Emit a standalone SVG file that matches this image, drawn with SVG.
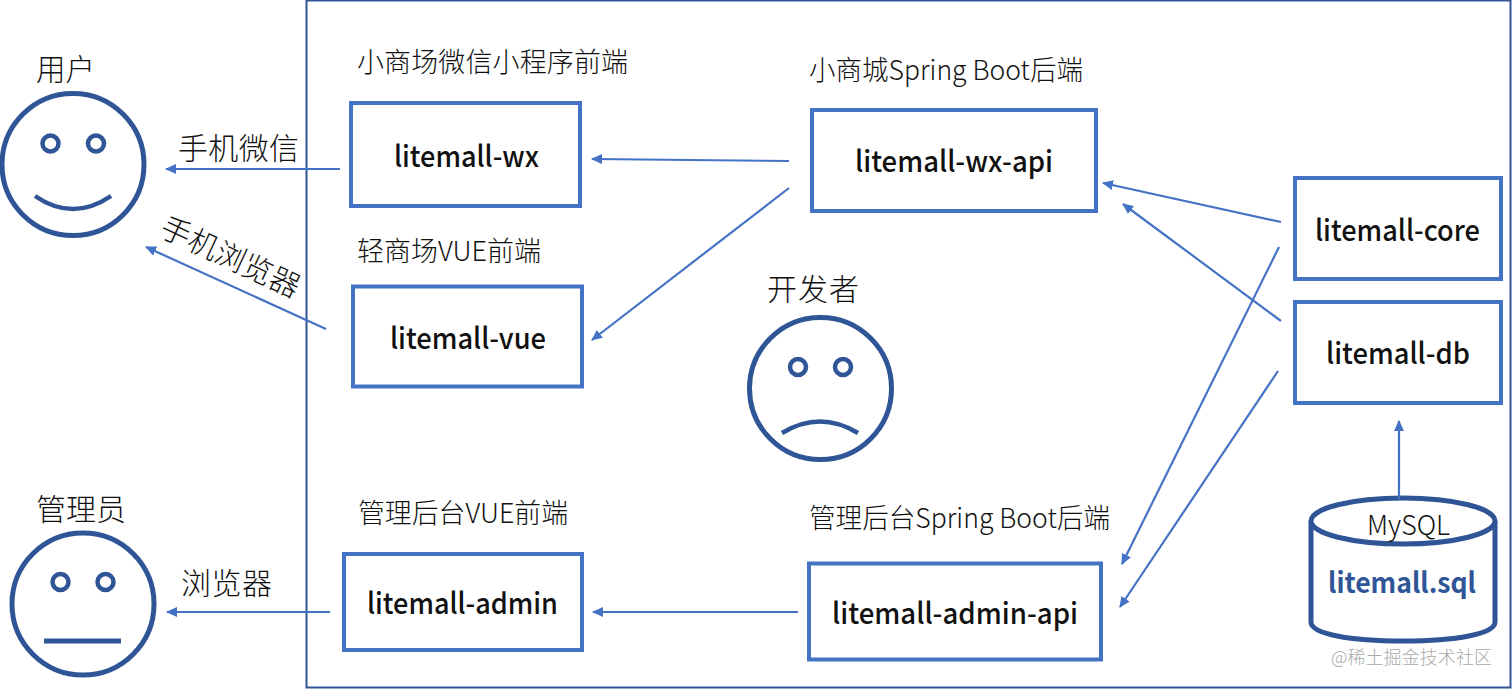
<svg xmlns="http://www.w3.org/2000/svg" width="1512" height="689" viewBox="0 0 1512 689">
<style>
text{font-family:"Noto Sans CJK SC","Noto Sans",sans-serif;fill:#111}
.n{font-size:29px;font-weight:500;text-anchor:middle}
.l{font-size:27px;font-weight:300}
.h{font-size:30px;font-weight:300}
.box{fill:#fff;stroke:#4472c4;stroke-width:4}
.face{fill:#fff;stroke:#2f5597;stroke-width:5}
.eye{fill:#fff;stroke:#2f5597;stroke-width:4.500}
.c{fill:none;stroke:#4472c4;stroke-width:2.200;marker-end:url(#a)}
.v{font-size:30px}
</style>
<defs><marker id="a" markerUnits="userSpaceOnUse" markerWidth="12" markerHeight="10" refX="10" refY="5" orient="auto"><path d="M0 0L11 5L0 10Z" fill="#4472c4"/></marker></defs>
<rect id="frame" x="306.500" y="0.500" width="1204" height="687" fill="#fff" stroke="#2f5597" stroke-width="2"/>
<g id="user"><circle class="face" cx="73" cy="164.500" r="71"/><circle class="eye" cx="50.500" cy="143.500" r="8"/><circle class="eye" cx="96" cy="143.500" r="8"/><path d="M35 196Q73 222 111 196" fill="none" stroke="#2f5597" stroke-width="4.500"/><text class="h" x="36" y="80" style="font-size:29.500px">用户</text></g>
<g id="admin"><circle class="face" cx="83" cy="604" r="71"/><circle class="eye" cx="60.500" cy="582" r="8"/><circle class="eye" cx="105.500" cy="582" r="8"/><path d="M44 641H121" fill="none" stroke="#2f5597" stroke-width="5"/><text class="h" x="36" y="520">管理员</text></g>
<g id="developer"><circle class="face" cx="820.500" cy="388.500" r="71"/><circle class="eye" cx="798" cy="367" r="8"/><circle class="eye" cx="843" cy="367" r="8"/><path d="M782 433Q820 410 858 433" fill="none" stroke="#2f5597" stroke-width="4.500"/><text class="h" x="767" y="300" textLength="92">开发者</text></g>
<g id="litemall-wx"><rect class="box" x="351" y="103" width="229" height="103"/><text class="n" x="466.500" y="167" textLength="145" lengthAdjust="spacingAndGlyphs">litemall-wx</text><text class="l" x="357" y="72" textLength="271">小商场微信小程序前端</text></g>
<g id="litemall-vue"><rect class="box" x="353" y="286.500" width="229" height="100"/><text class="n" x="468" y="349" textLength="156" lengthAdjust="spacingAndGlyphs">litemall-vue</text><text class="l" x="357" y="261" textLength="184" lengthAdjust="spacingAndGlyphs">轻商场VUE前端</text></g>
<g id="litemall-admin"><rect class="box" x="344" y="554" width="238" height="96"/><text class="n" x="462.500" y="614" textLength="191" lengthAdjust="spacingAndGlyphs">litemall-admin</text><text class="l" x="358" y="523" textLength="210" lengthAdjust="spacingAndGlyphs">管理后台VUE前端</text></g>
<g id="litemall-wx-api"><rect class="box" x="812" y="110" width="284" height="101"/><text class="n" x="954" y="172" textLength="198" lengthAdjust="spacingAndGlyphs">litemall-wx-api</text><text class="l" x="809" y="80" textLength="274" lengthAdjust="spacingAndGlyphs">小商城Spring Boot后端</text></g>
<g id="litemall-admin-api"><rect class="box" x="809" y="563.500" width="292" height="96"/><text class="n" x="955" y="624" textLength="246" lengthAdjust="spacingAndGlyphs">litemall-admin-api</text><text class="l" x="809" y="528" textLength="301" lengthAdjust="spacingAndGlyphs">管理后台Spring Boot后端</text></g>
<g id="litemall-core"><rect class="box" x="1295" y="178" width="206" height="101"/><text class="n" x="1397.500" y="241" textLength="165" lengthAdjust="spacingAndGlyphs">litemall-core</text></g>
<g id="litemall-db"><rect class="box" x="1295" y="302" width="206" height="101"/><text class="n" x="1398" y="364" textLength="144" lengthAdjust="spacingAndGlyphs">litemall-db</text></g>
<g id="litemall-sql"><path d="M1311 521V622C1311 634 1350 641 1403 641S1495 634 1495 622V521" fill="#fff" stroke="#2f5597" stroke-width="5"/><ellipse cx="1403" cy="521" rx="92" ry="23" fill="#fff" stroke="#2f5597" stroke-width="5"/><text x="1408.500" y="535" text-anchor="middle" font-size="27" font-weight="300" textLength="83" lengthAdjust="spacingAndGlyphs">MySQL</text><text x="1402" y="593" text-anchor="middle" font-size="28" font-weight="700" textLength="148" lengthAdjust="spacingAndGlyphs" style="fill:#2f5597">litemall.sql</text></g>
<g id="connectors">
<path class="c" d="M340 169H166"/>
<path class="c" d="M326 329L146 247"/>
<path class="c" d="M330 612H167"/>
<path class="c" d="M789 161L592 159"/>
<path class="c" d="M789 188L592 340"/>
<path class="c" d="M798 612H593"/>
<path class="c" d="M1281 222L1103 183"/>
<path class="c" d="M1281 321L1123 204"/>
<path class="c" d="M1279 247L1122 564"/>
<path class="c" d="M1278 371L1120 607"/>
<path class="c" d="M1399 499V421"/>
</g>
<text class="l v" x="178" y="159" textLength="121">手机微信</text>
<text class="l v" transform="translate(158 235) rotate(25)">手机浏览器</text>
<text class="l v" x="181" y="594" textLength="91">浏览器</text>
<text x="1331" y="664" font-size="18" font-weight="300" textLength="161" style="fill:#aaa">@稀土掘金技术社区</text>
</svg>
